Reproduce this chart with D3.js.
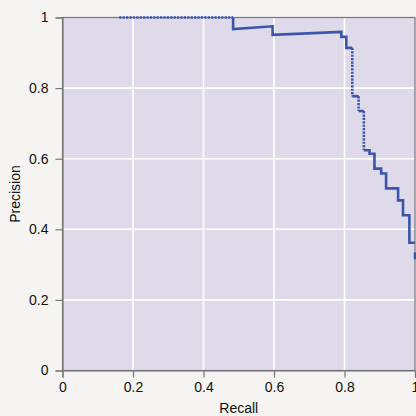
<!DOCTYPE html>
<html><head><meta charset="utf-8">
<script src="https://cdn.jsdelivr.net/npm/d3@7"></script>
<style>html,body{margin:0;padding:0;background:#f5f4f2;}svg{display:block;}</style>
</head><body>
<svg id="c" width="416" height="416"></svg>
<script>
const recall    = [0.161,0.484,0.484,0.596,0.596,0.791,0.791,0.805,0.805,0.822,0.822,0.840,0.840,0.855,0.855,0.871,0.871,0.885,0.885,0.904,0.904,0.918,0.918,0.952,0.952,0.966,0.966,0.984,0.984,1.000];
const precision = [1.000,1.000,0.967,0.975,0.951,0.959,0.945,0.945,0.914,0.914,0.777,0.777,0.735,0.735,0.624,0.624,0.614,0.614,0.572,0.572,0.558,0.558,0.516,0.516,0.482,0.482,0.440,0.440,0.362,0.362];
// segment i (from point i to i+1) drawn dotted?
const dottedSeg = [0,9,11,13];
const tailRecall = [1.0,1.0];
const tailPrecision = [0.335,0.315];
const xTicks = [0,0.2,0.4,0.6,0.8,1];
const yTicks = [0,0.2,0.4,0.6,0.8,1];
const xLabel = "Recall", yLabel = "Precision";

const svg = d3.select("#c");
const L=62.5, R=415, T=17.5, B=370.5;
const x = d3.scaleLinear().domain([0,1]).range([L,R]);
const y = d3.scaleLinear().domain([0,1]).range([B,T]);
const col="#3b55aa";

svg.append("rect").attr("x",L).attr("y",T).attr("width",R-L).attr("height",B-T).attr("fill","#dedaea");
// grid
svg.append("g").selectAll("line").data(xTicks.filter(d=>d>0&&d<1)).join("line")
  .attr("x1",d=>x(d)).attr("x2",d=>x(d)).attr("y1",T).attr("y2",B).attr("stroke","#fff").attr("stroke-width",1.6);
svg.append("g").selectAll("line").data(yTicks.filter(d=>d>0&&d<1)).join("line")
  .attr("y1",d=>y(d)).attr("y2",d=>y(d)).attr("x1",L).attr("x2",R).attr("stroke","#fff").attr("stroke-width",1.6);
// frame
svg.append("rect").attr("x",L).attr("y",T).attr("width",R-L).attr("height",B-T).attr("fill","none").attr("stroke","#777").attr("stroke-width",1.2);

// curve
const gC = svg.append("g").attr("fill","none").attr("stroke",col).attr("stroke-width",2.6).attr("stroke-linejoin","miter").attr("stroke-linecap","butt");
const line = d3.line().x(d=>x(d[0])).y(d=>y(d[1]));
const pts = recall.map((r,i)=>[r,precision[i]]);
let run=[];
for(let i=0;i<pts.length-1;i++){
  if(dottedSeg.includes(i)){
    if(run.length>1) gC.append("path").attr("d",line(run));
    run=[];
    gC.append("path").attr("d",line([pts[i],pts[i+1]])).attr("stroke-dasharray","2.2,1.2").attr("stroke-width",2.6);
  } else {
    if(run.length===0) run.push(pts[i]);
    run.push(pts[i+1]);
  }
}
if(run.length>1) gC.append("path").attr("d",line(run));
gC.append("path").attr("d",line(tailRecall.map((r,i)=>[r,tailPrecision[i]])));

// axes
const font='"Liberation Sans", Arial, Helvetica, sans-serif';
const xa = svg.append("g").attr("transform",`translate(0,${B})`).call(d3.axisBottom(x).tickValues(xTicks).tickFormat(d3.format("~g")).tickSize(7).tickPadding(5));
const ya = svg.append("g").attr("transform",`translate(${L},0)`).call(d3.axisLeft(y).tickValues(yTicks).tickFormat(d3.format("~g")).tickSize(7).tickPadding(7));
[xa,ya].forEach(a=>{
  a.select(".domain").attr("stroke","#777").attr("stroke-width",1.2);
  a.selectAll(".tick line").attr("stroke","#777").attr("stroke-width",1.2);
  a.selectAll("text").attr("font-family",font).attr("font-size",14).attr("fill","#111");
});
svg.append("text").attr("x",(L+R)/2).attr("y",413).attr("text-anchor","middle").attr("font-family",font).attr("font-size",14).attr("fill","#111").text(xLabel);
svg.append("text").attr("transform",`translate(20,${(T+B)/2}) rotate(-90)`).attr("text-anchor","middle").attr("font-family",font).attr("font-size",14).attr("fill","#111").text(yLabel);
</script>
</body></html>
